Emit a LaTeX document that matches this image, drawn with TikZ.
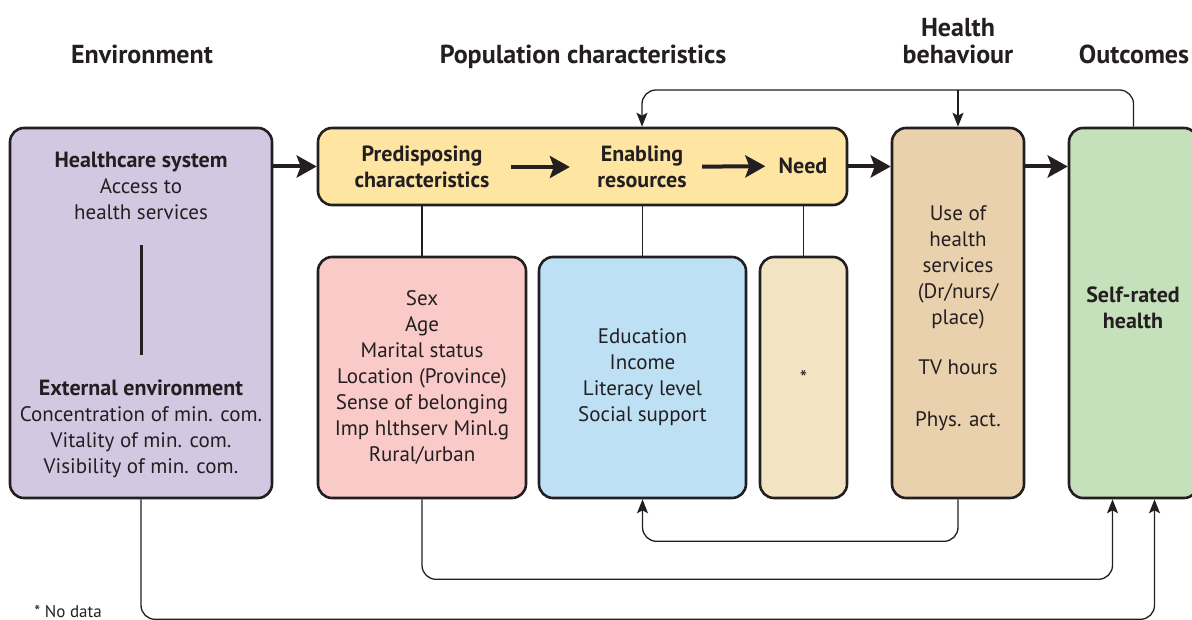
\documentclass[tikz,border=0pt]{standalone}
\usepackage{fontspec}
\setmainfont{PT Sans}
\usetikzlibrary{positioning,arrows.meta,calc}
\definecolor{darkline}{HTML}{231F20}
\definecolor{envfill}{HTML}{D3C8E2}
\definecolor{popfill}{HTML}{FEE5A2}
\definecolor{predfill}{HTML}{F9CAC8}
\definecolor{enabfill}{HTML}{BDE0F5}
\definecolor{needfill}{HTML}{F2E4C3}
\definecolor{behavfill}{HTML}{EAD1AD}
\definecolor{outfill}{HTML}{C5E1BB}
\tikzset{every picture/.style={line width=0.8pt}}

\begin{document}
\begin{tikzpicture}[x=0.5pt, y=-0.5pt,
    box/.style={draw=darkline, line width=1.3pt, rounded corners=7pt, align=center, text=darkline, font=\fontsize{10.5}{13}\selectfont, inner sep=0pt},
    boxtext/.style={align=center, text=darkline, font=\fontsize{10.5}{13}\selectfont, inner sep=1pt},
    boldtext/.style={boxtext, font=\fontsize{11}{13}\selectfont\bfseries},
    title/.style={align=center, text=darkline, font=\fontsize{13}{13.5}\selectfont\bfseries},
    bigarrow/.style={draw=darkline, line width=2pt, -{Stealth[length=10pt,width=11pt,inset=2pt]}},
    link/.style={draw=darkline, line width=0.65pt},
    backarrow/.style={link, rounded corners=7pt, -{Stealth[length=7pt,width=5.5pt,inset=1.5pt]}}]

\useasboundingbox (0,0) rectangle (1192,620);

    % Column titles
    \node[title, anchor=base] (tenv) at (142,64) {Environment};
    \node[title, anchor=base] (tpop) at (583,64) {Population characteristics};
    \node[title] (tbeh) at (958,41) {Health\\behaviour};
    \node[title, anchor=base] (tout) at (1134,64) {Outcomes};

    % Environment
    \node[box, fill=envfill, minimum width=131pt, minimum height=185pt] (env) at (141,313) {};
    \node[boxtext] (hcs) at (141,186) {{\fontsize{11}{13}\selectfont\bfseries Healthcare system}\\Access to\\health services};
    \node[boxtext] (ext) at (141,429) {{\fontsize{11}{13}\selectfont\bfseries External environment}\\Concentration of min. com.\\Vitality of min. com.\\Visibility of min. com.};
    \draw[darkline, line width=1.5pt, shorten <=11pt, shorten >=11pt] (hcs.south) -- (ext.north);

    % Population characteristics
    \node[box, fill=popfill, minimum width=264.5pt, minimum height=38.5pt] (pop) at (582.5,166.5) {};
    \node[boldtext] (pred) at (422,167) {Predisposing\\characteristics};
    \node[boldtext] (enab) at (642,167) {Enabling\\resources};
    \node[boldtext] (need) at (803,166) {Need};
    \draw[bigarrow, shorten <=9.3pt, shorten >=12.4pt] (pred) -- (enab);
    \draw[bigarrow, shorten <=6.4pt, shorten >=5.3pt] (enab) -- (need);

    \node[box, fill=predfill, minimum width=104pt, minimum height=120.5pt] (predbox) at (422,377.5) {Sex\\Age\\Marital status\\Location (Province)\\Sense of belonging\\Imp hlthserv Minl.g\\Rural/urban};
    \node[box, fill=enabfill, minimum width=103.5pt, minimum height=120.5pt] (enabbox) at (642.5,377.5) {Education\\Income\\Literacy level\\Social support};
    \node[box, fill=needfill, minimum width=43.5pt, minimum height=120.5pt] (needbox) at (803.5,377.5) {*};

    \draw[link] (predbox.north |- pop.south) -- (predbox.north);
    \draw[link] (enabbox.north |- pop.south) -- (enabbox.north);
    \draw[link] (needbox.north |- pop.south) -- (needbox.north);

    % Health behaviour and outcomes
    \node[box, fill=behavfill, minimum width=66pt, minimum height=185pt] (use) at (958,313) {};
    \node[boxtext] (usetext) at (958,318) {Use of\\health\\services\\(Dr/nurs/\\place)\\[12pt]TV hours\\[13pt]Phys. act.};
    \node[box, fill=outfill, minimum width=64.5pt, minimum height=185pt] (srh) at (1133.5,313) {};
    \node[boldtext] (srhtext) at (1133,308) {Self-rated\\health};

    % Main flow
    \draw[bigarrow] (env.east |- pop.west) -- (pop.west);
    \draw[bigarrow] (pop.east) -- (use.west |- pop.east);
    \draw[bigarrow] (use.east |- pop.east) -- (srh.west |- pop.east);

    % Feedback loops
    \coordinate (topbar) at (958,90);
    \draw[backarrow] (srh.north) |- (topbar) -| (pop.north -| enab);
    \draw[backarrow] (topbar) -- (use.north);
    \draw[backarrow] (use.south) -- ++(0,42) -| (enabbox.south);
    \draw[backarrow] (predbox.south) -- ++(0,80) -| ($(srh.south)+(-21,0)$);
    \draw[backarrow] (env.south) -- ++(0,120) -| ($(srh.south)+(21,0)$);

    % Footnote
    \node[anchor=west, text=darkline, font=\fontsize{8.5}{10}\selectfont] (nodata) at (27,612) {* No data};
\end{tikzpicture}
\end{document}
